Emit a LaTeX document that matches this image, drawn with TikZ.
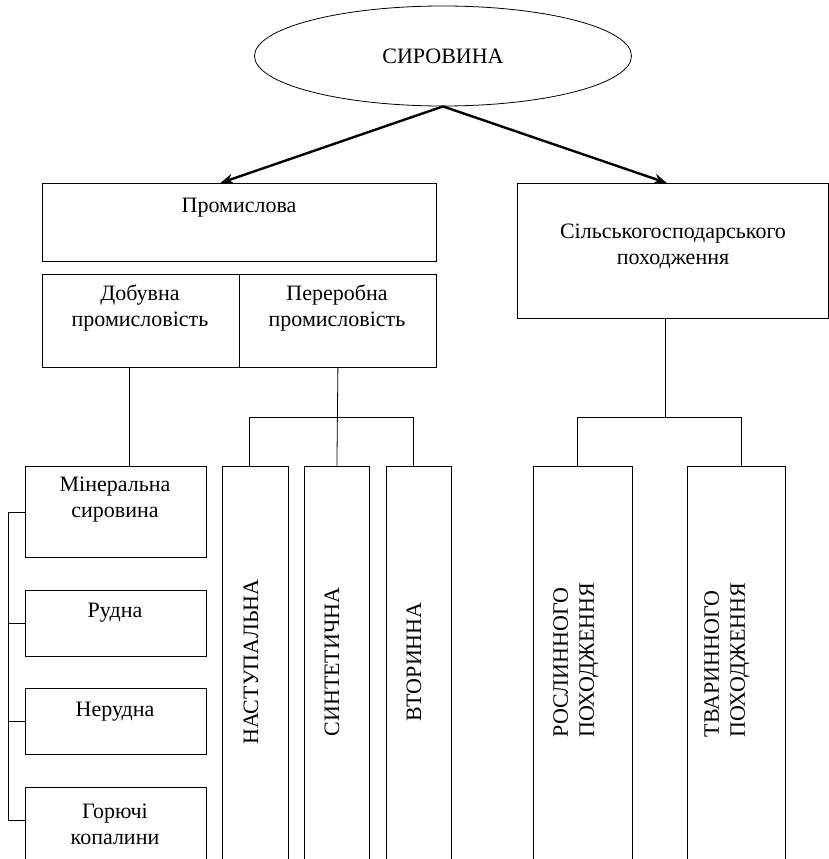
\documentclass[tikz,border=0pt]{standalone}
\usepackage{fontspec}
\setmainfont{Liberation Serif}
\usetikzlibrary{arrows.meta,shapes.geometric}
\begin{document}
\begin{tikzpicture}[x=1pt,y=-1pt,
  box/.style={draw, line width=0.8pt, rectangle, inner sep=0pt, anchor=north west},
  lbl/.style={inner sep=0pt, align=center, font=\fontsize{22}{26}\selectfont},
  rlbl/.style={inner sep=0pt, align=left, rotate=90, font=\fontsize{22}{26}\selectfont},
  ln/.style={line width=0.8pt},
  arr/.style={line width=2.4pt, -{Stealth[length=13pt,width=10pt]}}]
\useasboundingbox (0,0) rectangle (829,859);
\clip (0,0) rectangle (829,859);

% top ellipse
\node[draw, ellipse, line width=0.8pt, minimum width=377pt, minimum height=100pt, inner sep=0pt,
      font=\fontsize{22}{26}\selectfont] (sir) at (443,56) {СИРОВИНА};

% second level
\node[box, minimum width=394pt, minimum height=78pt] (prom) at (42,183) {};
\node[box, minimum width=197pt, minimum height=93pt] (dob) at (42,274) {};
\node[box, minimum width=197pt, minimum height=93pt] (per) at (239,274) {};
\node[box, minimum width=311pt, minimum height=135pt] (sil) at (517,183) {};

\node[lbl] (tprom) at (239,208) {Промислова};
\node[lbl] (tdob) at (140,308) {Добувна\\промисловість};
\node[lbl] (tper) at (337,308) {Переробна\\промисловість};
\node[lbl] (tsil) at (673,246) {Сільськогосподарського\\походження};

% arrows
\draw[arr] (sir.south) -- ([xshift=-19pt]prom.north);
\draw[arr] (sir.south) -- ([xshift=-6pt]sil.north);

% left column boxes
\node[box, minimum width=181pt, minimum height=91pt] (min) at (25,466) {};
\node[box, minimum width=181pt, minimum height=66pt] (rud) at (25,590) {};
\node[box, minimum width=181pt, minimum height=66pt] (ner) at (25,688) {};
\node[box, minimum width=181pt, minimum height=120pt] (gor) at (25,787) {};

\node[lbl] (tmin) at (115,500) {Мінеральна\\сировина};
\node[lbl] (trud) at (115,613) {Рудна};
\node[lbl] (tner) at (115,712) {Нерудна};
\node[lbl] (tgor) at (115,824) {Горючі\\копалини};

% vertical boxes
\node[box, minimum width=66pt, minimum height=440pt] (nas) at (222,466) {};
\node[box, minimum width=65pt, minimum height=440pt] (sin) at (304,466) {};
\node[box, minimum width=65pt, minimum height=440pt] (vto) at (386,466) {};
\node[box, minimum width=99pt, minimum height=440pt] (ros) at (533,466) {};
\node[box, minimum width=98pt, minimum height=440pt] (tva) at (687,466) {};

\node[rlbl] (tnas) at (251,662) {НАСТУПАЛЬНА};
\node[rlbl] (tsin) at (332,662) {СИНТЕТИЧНА};
\node[rlbl] (tvto) at (414,662) {ВТОРИННА};
\node[rlbl] (tros) at (576,660) {РОСЛИННОГО\\ПОХОДЖЕННЯ};
\node[rlbl] (ttva) at (727,660) {ТВАРИННОГО\\ПОХОДЖЕННЯ};

% connectors
\coordinate (mcol) at (129,0);
\draw[ln] (dob.south -| mcol) -- (min.north -| mcol);

\coordinate (barL) at (249,417);
\coordinate (barR) at (413,417);
\draw[ln] (per.south) -- (sin.north);
\draw[ln] (nas.north -| barL) -- (barL) -- (barR) -- (vto.north -| barR);

\coordinate (rmid) at (665,417);
\coordinate (rbL) at (577,417);
\coordinate (rbR) at (741,417);
\draw[ln] (sil.south -| rmid) -- (rmid);
\draw[ln] (ros.north -| rbL) -- (rbL) -- (rbR) -- (tva.north -| rbR);

% bracket
\coordinate (bb) at (8,820);
\draw[ln] (min.west) -| (bb) -- (gor.west |- bb);
\draw[ln] (rud.west) -- (rud.west -| bb);
\draw[ln] (ner.west) -- (ner.west -| bb);
\end{tikzpicture}
\end{document}
